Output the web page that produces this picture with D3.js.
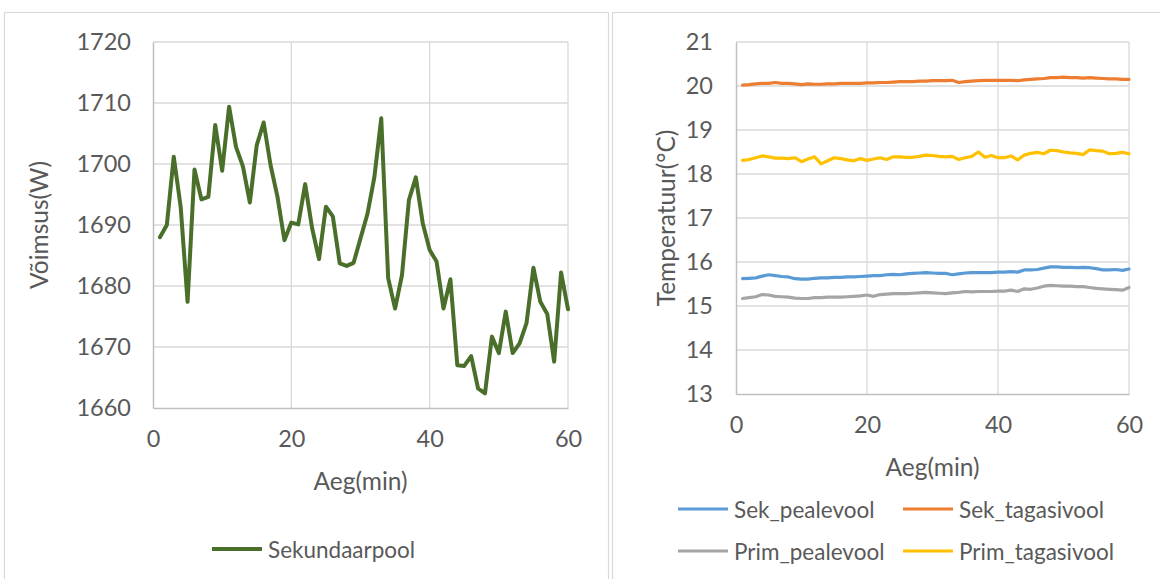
<!DOCTYPE html>
<html>
<head>
<meta charset="utf-8">
<script src="https://cdn.jsdelivr.net/npm/d3@7"></script>
<style>
  html, body { margin: 0; padding: 0; background: #ffffff; }
  svg { display: block; }
  text { font-family: Lato, "Open Sans", sans-serif; fill: #595959; }
</style>
</head>
<body>
<svg id="chart" width="1160" height="579"></svg>
<script>
// Minutes 1..60
const minutes = d3.range(1, 61);

// Left panel: heating power, secondary side (W)
const sekundaarpool = [
  1688.0, 1690.0, 1701.2, 1693.0, 1677.4, 1699.1, 1694.2, 1694.6, 1706.4, 1698.9,
  1709.4, 1702.8, 1699.6, 1693.7, 1703.1, 1706.8, 1699.8, 1694.6, 1687.5, 1690.4,
  1690.1, 1696.7, 1689.5, 1684.4, 1693.0, 1691.4, 1683.7, 1683.3, 1683.8, 1687.8,
  1691.8, 1697.8, 1707.5, 1681.3, 1676.3, 1681.8, 1694.1, 1697.8, 1690.3, 1685.9,
  1684.0, 1676.3, 1681.1, 1667.0, 1666.9, 1668.5, 1663.2, 1662.4, 1671.7, 1669.0,
  1675.8, 1669.0, 1670.6, 1673.9, 1683.0, 1677.4, 1675.4, 1667.6, 1682.2, 1676.2
];

// Right panel: temperatures (°C)
const sekPealevool = [
  15.62, 15.63, 15.64, 15.68, 15.71, 15.69, 15.67, 15.66, 15.62, 15.61,
  15.61, 15.63, 15.64, 15.64, 15.65, 15.65, 15.66, 15.66, 15.67, 15.68,
  15.69, 15.69, 15.71, 15.72, 15.71, 15.73, 15.74, 15.75, 15.76, 15.75,
  15.74, 15.74, 15.71, 15.73, 15.75, 15.76, 15.76, 15.76, 15.76, 15.77,
  15.77, 15.78, 15.77, 15.82, 15.82, 15.83, 15.86, 15.89, 15.89, 15.88,
  15.88, 15.87, 15.88, 15.87, 15.85, 15.82, 15.82, 15.83, 15.81, 15.84
];
const sekTagasivool = [
  20.02, 20.03, 20.05, 20.06, 20.06, 20.08, 20.06, 20.06, 20.05, 20.03,
  20.05, 20.04, 20.04, 20.05, 20.05, 20.06, 20.06, 20.06, 20.06, 20.07,
  20.07, 20.08, 20.08, 20.09, 20.10, 20.10, 20.10, 20.11, 20.11, 20.12,
  20.12, 20.12, 20.13, 20.08, 20.10, 20.11, 20.12, 20.13, 20.13, 20.13,
  20.13, 20.13, 20.12, 20.14, 20.15, 20.16, 20.17, 20.19, 20.19, 20.20,
  20.19, 20.19, 20.18, 20.19, 20.18, 20.17, 20.16, 20.16, 20.15, 20.15
];
const primPealevool = [
  15.17, 15.19, 15.21, 15.26, 15.25, 15.22, 15.21, 15.20, 15.18, 15.17,
  15.17, 15.19, 15.19, 15.20, 15.20, 15.20, 15.21, 15.22, 15.23, 15.25,
  15.22, 15.26, 15.27, 15.28, 15.28, 15.28, 15.29, 15.30, 15.31, 15.30,
  15.29, 15.28, 15.30, 15.31, 15.33, 15.32, 15.33, 15.33, 15.33, 15.34,
  15.34, 15.36, 15.33, 15.39, 15.38, 15.41, 15.45, 15.47, 15.46, 15.45,
  15.45, 15.44, 15.44, 15.42, 15.40, 15.39, 15.38, 15.37, 15.36, 15.42
];
const primTagasivool = [
  18.31, 18.33, 18.37, 18.41, 18.39, 18.36, 18.36, 18.35, 18.37, 18.28,
  18.34, 18.39, 18.23, 18.30, 18.37, 18.35, 18.32, 18.30, 18.35, 18.31,
  18.34, 18.37, 18.33, 18.39, 18.39, 18.38, 18.38, 18.40, 18.43, 18.42,
  18.40, 18.39, 18.40, 18.33, 18.37, 18.40, 18.50, 18.38, 18.42, 18.37,
  18.37, 18.41, 18.32, 18.43, 18.47, 18.49, 18.46, 18.54, 18.53, 18.50,
  18.48, 18.47, 18.44, 18.55, 18.53, 18.52, 18.46, 18.47, 18.49, 18.46
];

// Tick values
const xTicks = [0, 20, 40, 60];
const powerTicks = [1660, 1670, 1680, 1690, 1700, 1710, 1720];
const tempTicks = [13, 14, 15, 16, 17, 18, 19, 20, 21];

const svg = d3.select("#chart");
const GRID = "#d9d9d9";
const AXIS = "#bfbfbf";

// Panel frames
svg.append("rect").attr("x", 4.5).attr("y", 12.5).attr("width", 604).attr("height", 600)
  .attr("fill", "#fff").attr("stroke", GRID).attr("stroke-width", 1.2);
svg.append("rect").attr("x", 612.5).attr("y", 12.5).attr("width", 560).attr("height", 600)
  .attr("fill", "#fff").attr("stroke", GRID).attr("stroke-width", 1.2);

function drawPanel(cfg) {
  const g = svg.append("g");
  const x = d3.scaleLinear().domain([0, 60]).range([cfg.left, cfg.right]);
  const y = d3.scaleLinear().domain(cfg.yDomain).range([cfg.bottom, cfg.top]);

  // horizontal gridlines
  g.selectAll(null).data(cfg.yTicks.slice(1)).join("line")
    .attr("x1", cfg.left).attr("x2", cfg.right)
    .attr("y1", d => y(d)).attr("y2", d => y(d))
    .attr("stroke", GRID).attr("stroke-width", 1.3);
  // vertical gridlines
  g.selectAll(null).data(xTicks.slice(1)).join("line")
    .attr("x1", d => x(d)).attr("x2", d => x(d))
    .attr("y1", cfg.top).attr("y2", cfg.bottom)
    .attr("stroke", GRID).attr("stroke-width", 1.3);

  // axes
  const yAxis = d3.axisLeft(y).tickValues(cfg.yTicks).tickFormat(d3.format("d"))
    .tickSize(0).tickPadding(cfg.yPad);
  const xAxis = d3.axisBottom(x).tickValues(xTicks).tickFormat(d3.format("d"))
    .tickSize(0).tickPadding(cfg.xPad);
  const ya = g.append("g").attr("transform", `translate(${cfg.left},0)`).call(yAxis);
  const xa = g.append("g").attr("transform", `translate(0,${cfg.bottom})`).call(xAxis);
  [ya, xa].forEach(a => {
    a.select(".domain").attr("stroke", AXIS).attr("stroke-width", 1.5);
    a.selectAll("text").attr("font-size", cfg.tickSize)
      .style("font-family", "Lato, sans-serif").attr("fill", "#595959");
  });

  // axis titles
  g.append("text").attr("x", (cfg.left + cfg.right) / 2).attr("y", cfg.xTitleY)
    .attr("text-anchor", "middle").attr("dominant-baseline", "central")
    .attr("font-size", cfg.titleSize).text("Aeg(min)");
  g.append("text")
    .attr("transform", `translate(${cfg.yTitleX},${(cfg.top + cfg.bottom) / 2}) rotate(-90)`)
    .attr("text-anchor", "middle").attr("dominant-baseline", "central")
    .attr("font-size", cfg.titleSize).text(cfg.yTitle);

  // series
  const line = d3.line().x((d, i) => x(minutes[i])).y(d => y(d));
  cfg.series.forEach(s => {
    g.append("path").datum(s.values)
      .attr("d", line).attr("fill", "none")
      .attr("stroke", s.color).attr("stroke-width", cfg.lineWidth)
      .attr("stroke-linejoin", "round").attr("stroke-linecap", "round");
  });
  return { x, y };
}

drawPanel({
  left: 153, right: 568, top: 42, bottom: 408,
  yDomain: [1660, 1720], yTicks: powerTicks,
  yPad: 22, xPad: 22, tickSize: 23.5, titleSize: 24.5,
  xTitleY: 480, yTitleX: 38, yTitle: "Võimsus(W)",
  lineWidth: 4,
  series: [{ name: "Sekundaarpool", values: sekundaarpool, color: "#4a6f2b" }]
});

drawPanel({
  left: 736, right: 1129, top: 42, bottom: 394,
  yDomain: [13, 21], yTicks: tempTicks,
  yPad: 23, xPad: 22, tickSize: 23.5, titleSize: 24.5,
  xTitleY: 466, yTitleX: 665, yTitle: "Temperatuur(°C)",
  lineWidth: 3.2,
  series: [
    { name: "Sek_pealevool", values: sekPealevool, color: "#5b9bd5" },
    { name: "Sek_tagasivool", values: sekTagasivool, color: "#ed7d31" },
    { name: "Prim_pealevool", values: primPealevool, color: "#a5a5a5" },
    { name: "Prim_tagasivool", values: primTagasivool, color: "#ffc000" }
  ]
});

// Legends
const legendItems = [
  { label: "Sekundaarpool", color: "#4a6f2b", x: 212, y: 549 },
  { label: "Sek_pealevool", color: "#5b9bd5", x: 678, y: 509 },
  { label: "Sek_tagasivool", color: "#ed7d31", x: 903, y: 509 },
  { label: "Prim_pealevool", color: "#a5a5a5", x: 678, y: 551 },
  { label: "Prim_tagasivool", color: "#ffc000", x: 903, y: 551 }
];
const lg = svg.append("g");
legendItems.forEach(d => {
  lg.append("line").attr("x1", d.x).attr("x2", d.x + 50)
    .attr("y1", d.y).attr("y2", d.y)
    .attr("stroke", d.color).attr("stroke-width", d.label === "Sekundaarpool" ? 4 : 3.2);
  lg.append("text").attr("x", d.x + 56).attr("y", d.y)
    .attr("dominant-baseline", "central").attr("font-size", 22.5).text(d.label);
});
</script>
</body>
</html>
